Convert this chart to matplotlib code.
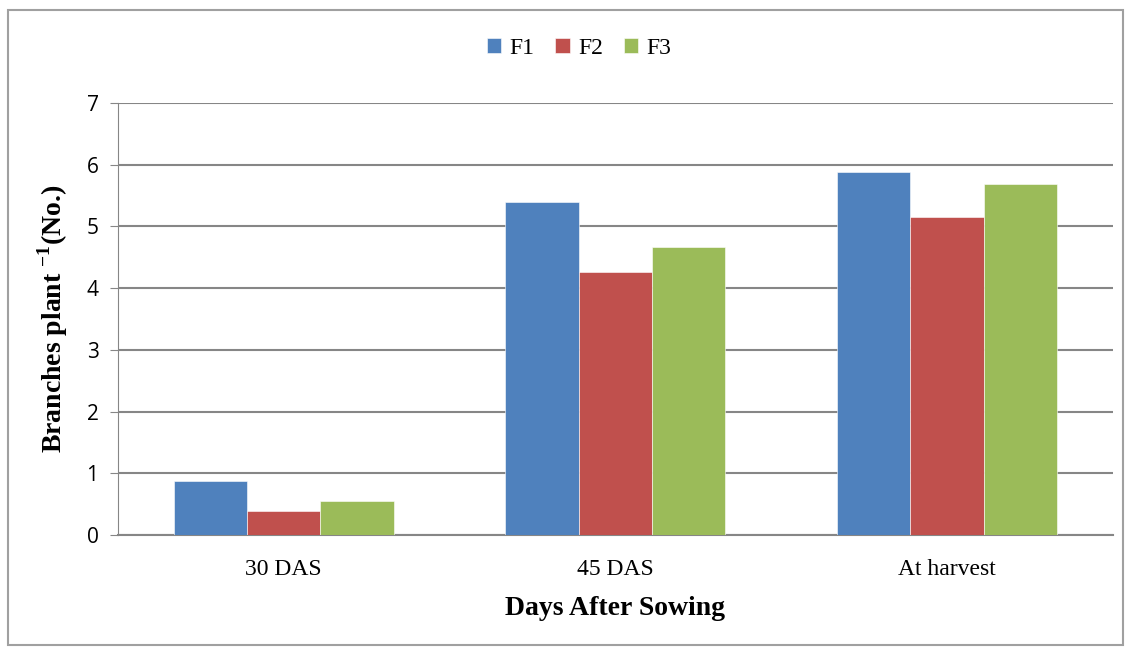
import matplotlib
matplotlib.use("Agg")
import matplotlib.pyplot as plt
import numpy as np

categories = ["30 DAS", "45 DAS", "At harvest"]
series = ["F1", "F2", "F3"]
f1 = [0.88, 5.40, 5.88]
f2 = [0.39, 4.26, 5.15]
f3 = [0.55, 4.67, 5.68]
colors = ["#4f81bd", "#c0504d", "#9bbb59"]

plt.rcParams['mathtext.fontset'] = 'custom'
plt.rcParams['mathtext.rm'] = 'Liberation Serif:bold'
plt.rcParams['mathtext.bf'] = 'Liberation Serif:bold'

fig = plt.figure(figsize=(11.31, 6.49), dpi=100)
ax = fig.add_axes([0.1043, 0.1757, 0.8797, 0.6656])

x = np.arange(len(categories))
w = 0.221
for i, (vals, name) in enumerate(zip([f1, f2, f3], series)):
    ax.bar(x + (i - 1) * w, vals, w, color=colors[i], label=name, zorder=3,
           edgecolor="white", linewidth=0.4)

ax.set_xlim(-0.5, 2.5)
ax.set_ylim(0, 7)
ax.set_yticks(range(0, 8))
ax.yaxis.grid(True, color="#868686", linewidth=1.5, zorder=0)
for s in ["top", "right"]:
    ax.spines[s].set_visible(False)
ax.spines["left"].set_color("#868686")
ax.spines["bottom"].set_color("#868686")
ax.spines["bottom"].set_linewidth(1.5)
ax.tick_params(axis="y", length=6, color="#868686", labelsize=15, pad=8)
ax.tick_params(axis="x", length=0, labelsize=17, pad=17)
for t in ax.get_yticklabels():
    t.set_fontfamily("Open Sans")
ax.set_xticks(x)
ax.set_xticklabels(categories, fontfamily="Liberation Serif")

ax.set_xlabel("Days After Sowing", fontfamily="Liberation Serif", fontweight="bold",
              fontsize=20, labelpad=12)
ax.set_ylabel("Branches plant $^{-1}$(No.)", fontfamily="Liberation Serif",
              fontweight="bold", fontsize=20, labelpad=12)

leg = fig.legend(loc="center", bbox_to_anchor=(0.512, 0.926), ncol=3, frameon=False,
                 prop={"family": "Liberation Serif", "size": 17}, handlelength=0.6,
                 handleheight=0.6, handletextpad=0.35, columnspacing=0.9)

fig.patches.append(plt.Rectangle((0.007, 0.006), 0.986, 0.978, transform=fig.transFigure,
                                 fill=False, edgecolor="#a0a0a0", linewidth=1.5))

fig.savefig("out.png", dpi=100)
